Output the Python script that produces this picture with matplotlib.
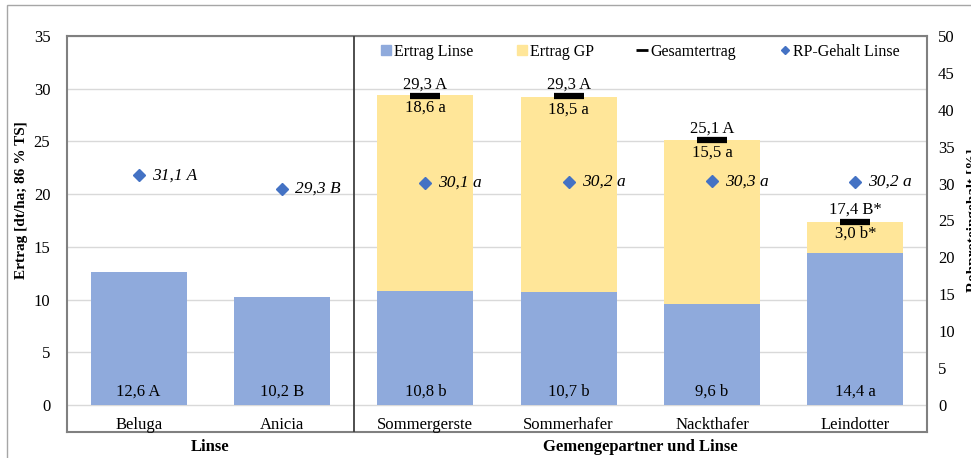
import matplotlib
matplotlib.use("Agg")
import matplotlib.pyplot as plt
from matplotlib.patches import Rectangle
from matplotlib.lines import Line2D
import numpy as np

plt.rcParams['font.family'] = ['Liberation Serif', 'DejaVu Serif']

# --- data ---
categories = ["Beluga", "Anicia", "Sommergerste", "Sommerhafer", "Nackthafer", "Leindotter"]
ertrag_linse = [12.6, 10.2, 10.8, 10.7, 9.6, 14.4]
ertrag_linse_lbl = ["12,6 A", "10,2 B", "10,8 b", "10,7 b", "9,6 b", "14,4 a"]
ertrag_gp = [0, 0, 18.6, 18.5, 15.5, 3.0]
ertrag_gp_lbl = ["", "", "18,6 a", "18,5 a", "15,5 a", "3,0 b*"]
gesamt = [None, None, 29.3, 29.3, 25.1, 17.4]
gesamt_lbl = ["", "", "29,3 A", "29,3 A", "25,1 A", "17,4 B*"]
rp_gehalt = [31.1, 29.3, 30.1, 30.2, 30.3, 30.2]
rp_lbl = ["31,1 A", "29,3 B", "30,1 a", "30,2 a", "30,3 a", "30,2 a"]
groups = ["Linse", "Gemengepartner und Linse"]

BLUE = "#8FAADC"
YELLOW = "#FFE699"
DIAMOND = "#4472C4"
GRID = "#D9D9D9"
FRAME = "#808080"

W, H = 971, 458
fig = plt.figure(figsize=(W / 100, H / 100), dpi=100)

# outer border
fig.add_artist(Rectangle((7 / W, -0.01), 1.02, (H - 5) / H + 0.01,
                         transform=fig.transFigure, fill=False,
                         edgecolor="#A6A6A6", lw=1.0))

left, right, top, bottom = 67, 927, 36, 432
ax = fig.add_axes([left / W, (H - bottom) / H, (right - left) / W, (bottom - top) / H])

px_per_unit = (405 - top) / 35.0
ylo = -(bottom - 405) / px_per_unit
ax.set_ylim(ylo, 35)
ax.set_xlim(-0.5, len(categories) - 0.5)

x = np.arange(len(categories))
bw = 0.67
ax.bar(x, ertrag_linse, bw, color=BLUE, zorder=2, label="Ertrag Linse")
ax.bar(x[2:], ertrag_gp[2:], bw, bottom=ertrag_linse[2:], color=YELLOW, zorder=2,
       label="Ertrag GP")

gx = [xi for xi, g in zip(x, gesamt) if g is not None]
gy = [g for g in gesamt if g is not None]
ax.plot(gx, gy, ls="none", marker="_", ms=22, mew=4.5, color="black", zorder=4,
        label="Gesamtertrag")

ax.set_yticks(np.arange(0, 36, 5))
ax.tick_params(axis="y", length=0, pad=12, labelsize=12)
ax.set_xticks([])
ax.grid(axis="y", color=GRID, lw=1.0, zorder=0)
ax.set_axisbelow(True)
for s in ax.spines.values():
    s.set_color(FRAME)
    s.set_linewidth(1.5)

# secondary axis for protein content
ax2 = ax.twinx()
ax2.set_ylim(ylo * 50 / 35, 50)
ax2.set_yticks(np.arange(0, 51, 5))
ax2.tick_params(axis="y", length=0, pad=8, labelsize=12)
for s in ax2.spines.values():
    s.set_visible(False)
ax2.plot(x, rp_gehalt, ls="none", marker="D", ms=6, color=DIAMOND, zorder=5,
         label="RP-Gehalt Linse")
for xi, v, t in zip(x, rp_gehalt, rp_lbl):
    ax2.text(xi + 0.09, v, t, ha="left", va="center", style="italic", fontsize=12.5)

# value labels
for xi, t in zip(x, ertrag_linse_lbl):
    ax.text(xi, 1.3, t, ha="center", va="center", fontsize=12)
for xi, lo, gp, t in zip(x, ertrag_linse, ertrag_gp, ertrag_gp_lbl):
    if t:
        ax.text(xi, lo + gp - 1.15, t, ha="center", va="center", fontsize=12)
for xi, g, t in zip(x, gesamt, gesamt_lbl):
    if g is not None:
        ax.text(xi, g + 1.1, t, ha="center", va="center", fontsize=12)

# category labels inside the frame
for xi, c in zip(x, categories):
    ax.text(xi, -1.9, c, ha="center", va="center", fontsize=12)

# divider between the two groups
ax.axvline(1.5, color="#404040", lw=1.3, zorder=3)

# group labels below the frame
ax.text(0.5, -3.95, groups[0], ha="center", va="center", fontsize=12,
        fontweight="bold", clip_on=False)
ax.text(3.5, -3.95, groups[1], ha="center", va="center", fontsize=12,
        fontweight="bold", clip_on=False)

# axis titles (the right one runs off the edge of the canvas)
fig.text(22 / W, 1 - 200 / H, "Ertrag [dt/ha; 86 % TS]", rotation=90,
         ha="center", va="center", fontsize=11, fontweight="bold")
fig.text(973 / W, 1 - 220 / H, "Rohproteingehalt [%]", rotation=90,
         ha="center", va="center", fontsize=11, fontweight="bold")

# legend
handles = [
    Line2D([], [], ls="none", marker="s", ms=7, color=BLUE),
    Line2D([], [], ls="none", marker="s", ms=7, color=YELLOW),
    Line2D([], [], ls="none", marker="_", ms=9, mew=2, color="black"),
    Line2D([], [], ls="none", marker="D", ms=4.5, color=DIAMOND),
]
labels = ["Ertrag Linse", "Ertrag GP", "Gesamtertrag", "RP-Gehalt Linse"]
fig.legend(handles, labels, loc="center", bbox_to_anchor=(640 / W, 1 - 52 / H),
           ncol=4, frameon=False, fontsize=11.5, handlelength=0.6,
           handletextpad=0.2, columnspacing=2.75)

fig.savefig("out.png", dpi=100)
